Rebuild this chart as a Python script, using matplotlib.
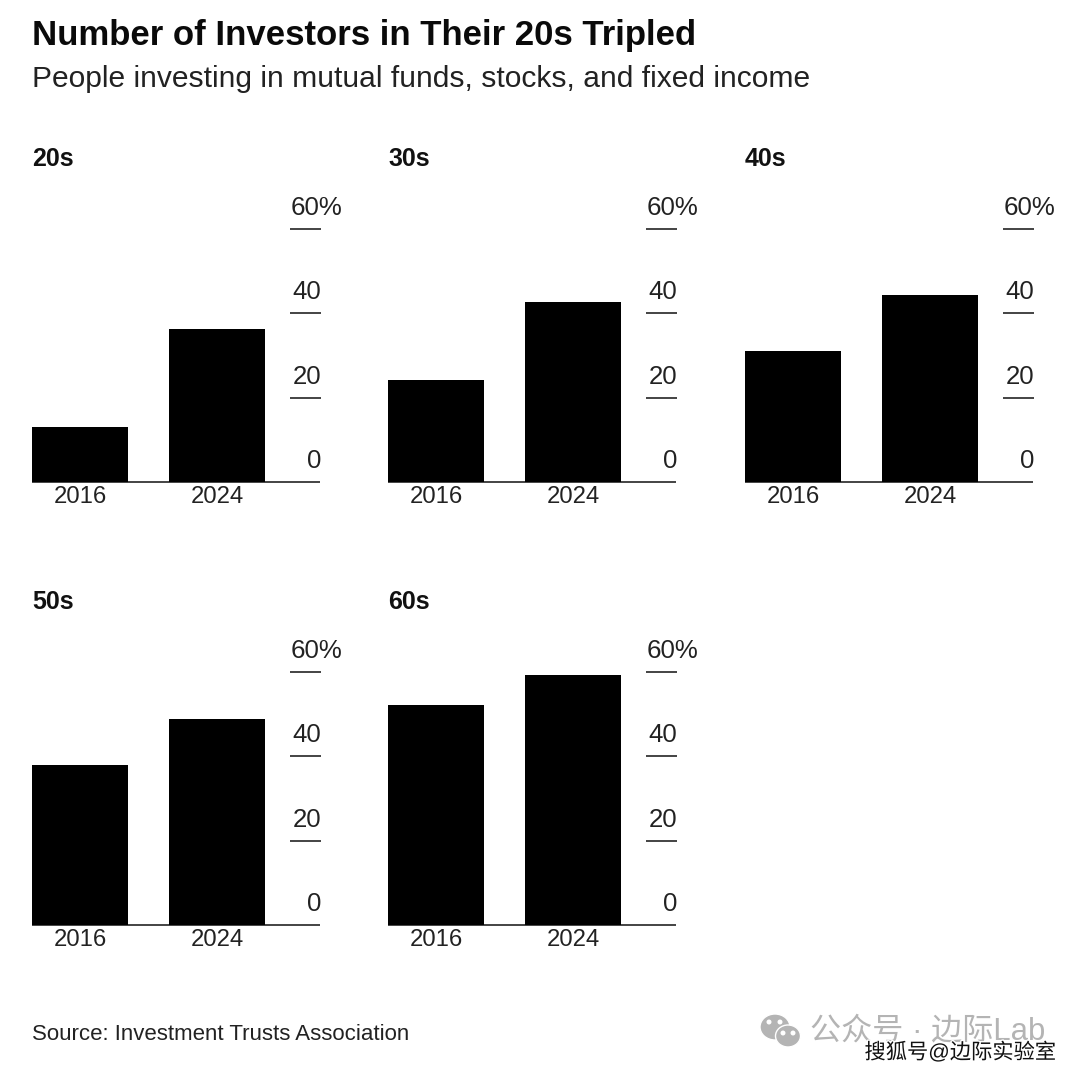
import matplotlib
matplotlib.use("Agg")
import matplotlib.pyplot as plt
from matplotlib.patches import Ellipse
import matplotlib.patheffects as pe

W, H = 1080, 1075

# Values (%)
ages = ["20s", "30s", "40s", "50s", "60s"]
years = ["2016", "2024"]
share_2016 = [13.0, 24.2, 31.0, 37.9, 52.1]
share_2024 = [36.3, 42.7, 44.3, 48.8, 59.2]
y_ticks = [0, 20, 40, 60]
y_labels = ["0", "20", "40", "60%"]

# panel left edge / baseline, in pixels
lefts = [32, 388, 745, 32, 388]
bases = [482, 482, 482, 925, 925]

plt.rcParams["font.family"] = ["Liberation Sans", "Noto Sans CJK SC"]
ink = "#111111"

fig = plt.figure(figsize=(W / 100, H / 100), dpi=100, facecolor="white")


def fx(px):
    return px / W


def fy(py):
    return 1 - py / H


for i, age in enumerate(ages):
    left, base = lefts[i], bases[i]
    ax = fig.add_axes([fx(left), fy(base), 288 / W, 253 / H])
    ax.bar([0, 1], [share_2016[i], share_2024[i]], width=0.7, color="black", zorder=3)
    ax.set_xlim(-0.35, 1.75)
    ax.set_ylim(0, 60)
    ax.patch.set_visible(False)
    for s in ["top", "left", "right"]:
        ax.spines[s].set_visible(False)
    ax.spines["bottom"].set_linewidth(1.1)
    ax.spines["bottom"].set_color(ink)
    ax.spines["bottom"].set_capstyle("butt")
    ax.set_xticks([0, 1], years)
    ax.tick_params(axis="x", length=0, pad=3, labelsize=17.2, labelcolor="#222222")
    ax.set_yticks([])
    tick_tf = ax.get_yaxis_transform()
    for v, lab in zip(y_ticks, y_labels):
        if v > 0:
            ax.plot([0.896, 1.004], [v, v], color=ink, lw=1.1, clip_on=False,
                    solid_capstyle="butt", transform=tick_tf)
        ax.annotate(lab, xy=(1, v), xycoords=tick_tf,
                    xytext=(22 if lab.endswith("%") else 1, 9),
                    textcoords="offset pixels", ha="right", va="bottom",
                    fontsize=18.6, color="#222222", annotation_clip=False)
    fig.text(fx(left), fy(base - 323), age, fontsize=18, fontweight="bold",
             color="#111111", va="center", ha="left")

fig.text(fx(32), fy(35.5), "Number of Investors in Their 20s Tripled", fontsize=25,
         fontweight="bold", color="#0a0a0a", va="center", ha="left")
fig.text(fx(32), fy(79), "People investing in mutual funds, stocks, and fixed income",
         fontsize=21.6, color="#222222", va="center", ha="left")
fig.text(fx(32), fy(1034), "Source: Investment Trusts Association", fontsize=16,
         color="#222222", va="center", ha="left")

# watermarks
for cx, cy, w, h in [(775, 1027, 30, 26), (788, 1036, 25, 22)]:
    fig.add_artist(Ellipse((fx(cx), fy(cy)), w / W, h / H, transform=fig.transFigure,
                           facecolor="#b4b4b4", edgecolor="white", lw=1))
for cx, cy in [(769, 1022), (780, 1022), (783, 1033), (793, 1033)]:
    fig.add_artist(Ellipse((fx(cx), fy(cy)), 5 / W, 5 / H, transform=fig.transFigure,
                           facecolor="white", edgecolor="none"))
fig.text(fx(810), fy(1031), "公众号 · 边际Lab", fontsize=22.4, color="#b4b4b4",
         va="center", ha="left")
fig.text(fx(1056), fy(1052), "搜狐号@边际实验室", fontsize=15.3, color="#111111",
         va="center", ha="right",
         path_effects=[pe.withStroke(linewidth=2, foreground="white")])

fig.savefig("out.png", dpi=100, facecolor="white")
